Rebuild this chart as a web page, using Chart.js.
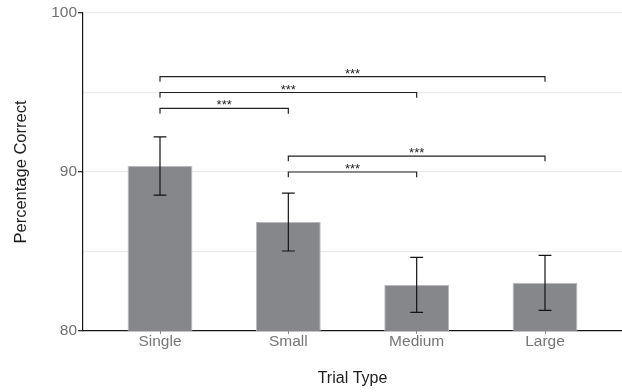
<!DOCTYPE html>
<html>
<head>
<meta charset="utf-8">
<style>
  html, body { margin: 0; padding: 0; background: #ffffff; }
  #wrap { width: 622px; height: 392px; }
</style>
<script src="https://cdn.jsdelivr.net/npm/chart.js@4/dist/chart.umd.min.js"></script>
</head>
<body>
<div id="wrap"><canvas id="chart" width="622" height="392"></canvas></div>
<script>
// Trial types and mean accuracy (percent) with their error margins
const categories = ['Single', 'Small', 'Medium', 'Large'];
const means = [90.38, 86.85, 82.9, 83.03];
const errors = [1.83, 1.82, 1.73, 1.73];

// Y axis range and tick step
const yMin = 80;
const yMax = 100;
const yStep = 5;

// Pairwise significance comparisons: [from index, to index, bracket level]
const compFrom = [0, 0, 0, 1, 1];
const compTo = [1, 2, 3, 2, 3];
const compLevel = [94, 95, 96, 90, 91];
const compLabel = ['***', '***', '***', '***', '***'];

const FONT = "'Liberation Sans', Arial, Helvetica, sans-serif";
const capHalf = 0.05;      // half width of error bar caps, in category units
const bracketDrop = 0.33;  // bracket end tick length, in value units

// Error bars as one gapped line: cap, stem, cap per category
const errorPoints = [];
categories.forEach((c, i) => {
  const hi = means[i] + errors[i];
  const lo = means[i] - errors[i];
  errorPoints.push({x: i - capHalf, y: hi}, {x: i + capHalf, y: hi}, {x: i, y: null});
  errorPoints.push({x: i, y: hi}, {x: i, y: lo}, {x: i, y: null});
  errorPoints.push({x: i - capHalf, y: lo}, {x: i + capHalf, y: lo}, {x: i, y: null});
});

// Significance brackets as one gapped line
const bracketPoints = [];
compFrom.forEach((a, k) => {
  const b = compTo[k];
  const h = compLevel[k];
  bracketPoints.push({x: a, y: h - bracketDrop}, {x: a, y: h}, {x: b, y: h},
                     {x: b, y: h - bracketDrop}, {x: b, y: null});
});

// Writes the star labels centred over each bracket
const starLabels = {
  id: 'starLabels',
  afterDatasetsDraw(chart) {
    const {ctx, scales: {x, y}} = chart;
    ctx.save();
    ctx.font = '13px ' + FONT;
    ctx.fillStyle = '#222222';
    ctx.textAlign = 'center';
    ctx.textBaseline = 'alphabetic';
    compFrom.forEach((a, k) => {
      const mid = (a + compTo[k]) / 2;
      ctx.fillText(compLabel[k], x.getPixelForValue(mid), y.getPixelForValue(compLevel[k]) + 1);
    });
    ctx.restore();
  }
};

new Chart(document.getElementById('chart'), {
  type: 'bar',
  data: {
    datasets: [
      {
        type: 'line',
        data: bracketPoints,
        borderColor: '#222222',
        borderWidth: 1.2,
        pointRadius: 0,
        spanGaps: false,
        tension: 0,
        order: 1
      },
      {
        type: 'line',
        data: errorPoints,
        borderColor: '#141414',
        borderWidth: 1.2,
        pointRadius: 0,
        spanGaps: false,
        tension: 0,
        order: 0
      },
      {
        type: 'bar',
        data: categories.map((c, i) => ({x: i, y: means[i]})),
        backgroundColor: '#86878b',
        borderColor: '#b9b9bc',
        borderWidth: 1,
        borderSkipped: 'start',
        barPercentage: 0.505,
        categoryPercentage: 1,
        order: 2
      }
    ]
  },
  options: {
    responsive: false,
    animation: false,
    events: [],
    layout: { padding: { top: 13, right: 0, left: 0, bottom: 0 } },
    plugins: { legend: { display: false }, tooltip: { enabled: false } },
    scales: {
      x: {
        type: 'linear',
        min: -0.6,
        max: 3.6,
        offset: false,
        afterFit(scale) { scale.height = 61; },
        afterBuildTicks(scale) { scale.ticks = categories.map((c, i) => ({value: i})); },
        grid: { offset: false, drawOnChartArea: false, drawTicks: true, tickLength: 3, tickColor: '#8a8a8a' },
        border: { display: true, color: '#161616', width: 1.2 },
        ticks: {
          includeBounds: false,
          padding: 0,
          color: '#767676',
          font: { family: FONT, size: 15.5, lineHeight: 1 },
          callback: (v) => categories[v]
        },
        title: {
          display: true,
          text: 'Trial Type',
          color: '#1e1e1e',
          font: { family: FONT, size: 16, lineHeight: 1.2 },
          padding: { top: 0, bottom: 4 }
        }
      },
      y: {
        min: yMin,
        max: yMax,
        afterFit(scale) { scale.width = 83; },
        grid: {
          color: (c) => (c.tick && c.tick.value === yMin ? 'rgba(0,0,0,0)' : '#ebebeb'),
          lineWidth: 1.3,
          drawTicks: true,
          tickLength: 5,
          tickColor: (c) => (c.tick && c.tick.value % 10 === 0 ? '#333333' : 'rgba(0,0,0,0)')
        },
        border: { display: true, color: '#161616', width: 1.2 },
        ticks: {
          stepSize: yStep,
          padding: 1,
          color: '#707070',
          font: { family: FONT, size: 15.5 },
          callback: (v) => (v % 10 === 0 ? String(v) : '')
        },
        title: {
          display: true,
          text: 'Percentage Correct',
          color: '#1e1e1e',
          font: { family: FONT, size: 16.5, lineHeight: 1.2 },
          padding: { top: 12, bottom: 0 }
        }
      }
    }
  },
  plugins: [starLabels]
});
</script>
</body>
</html>
